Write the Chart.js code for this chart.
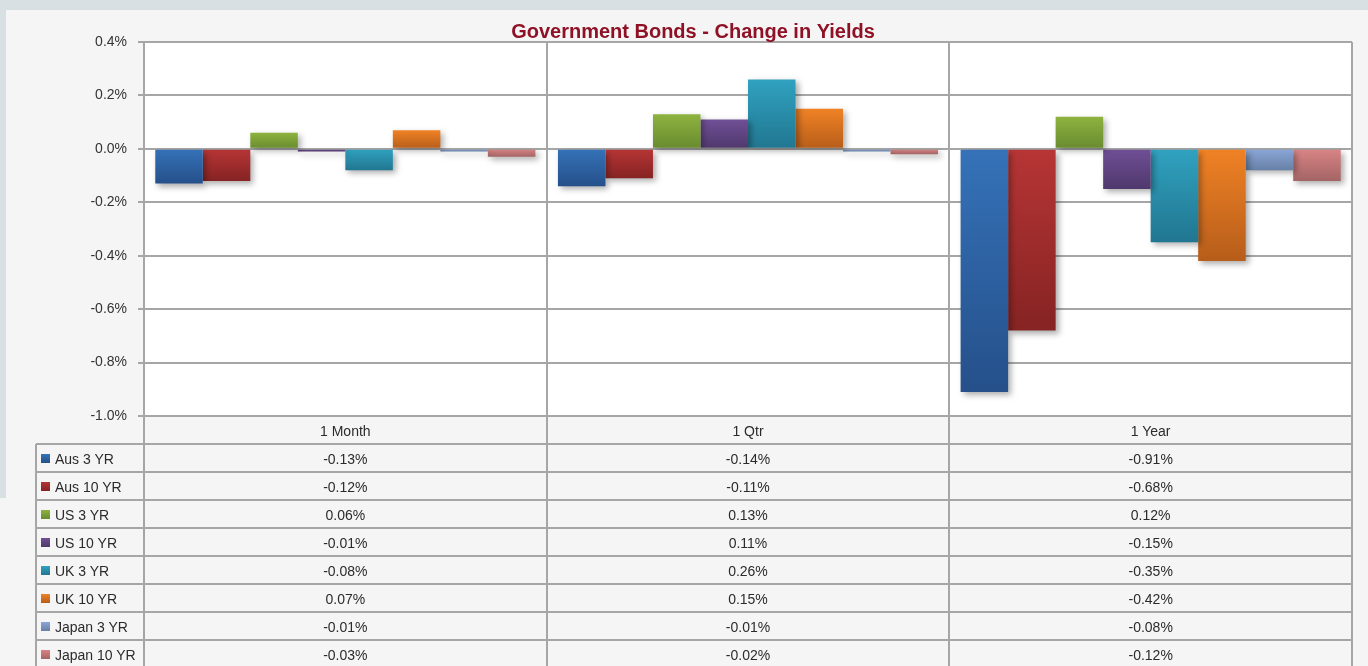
<!DOCTYPE html>
<html>
<head>
<meta charset="utf-8">
<script src="https://cdn.jsdelivr.net/npm/chart.js@4.4.1/dist/chart.umd.min.js"></script>
<style>
  html, body { margin:0; padding:0; }
  body { width:1368px; height:666px; background:#f5f5f5; position:relative; overflow:hidden;
         font-family:"Liberation Sans", Arial, sans-serif; }
  #topStrip { position:absolute; left:0; top:0; width:1368px; height:10px; background:#d9e0e3; }
  #leftStrip { position:absolute; left:0; top:10px; width:6px; height:488px; background:#d9e0e3; }
  #wrap { position:absolute; left:6px; top:10px; width:1362px; height:656px; }
  #table { position:absolute; left:0; top:0; width:1368px; height:666px; pointer-events:none; }
  .hl { position:absolute; height:2px; background:#a6a6a6; }
  .vl { position:absolute; width:2px; background:#a6a6a6; }
  .cell { position:absolute; font-size:14px; color:#2b2b2b; text-align:center; line-height:28px; height:28px; white-space:nowrap; }
  .lab { position:absolute; font-size:14px; color:#2b2b2b; line-height:28px; height:28px; white-space:nowrap; }
  .sw { position:absolute; width:9px; height:9px; }
</style>
</head>
<body>
<div id="topStrip"></div>
<div id="leftStrip"></div>
<div id="wrap"><canvas id="c" width="1362" height="656"></canvas></div>
<div id="table"></div>
<script>
// ---- data ----
const categories = ['1 Month', '1 Qtr', '1 Year'];
const seriesNames = ['Aus 3 YR', 'Aus 10 YR', 'US 3 YR', 'US 10 YR', 'UK 3 YR', 'UK 10 YR', 'Japan 3 YR', 'Japan 10 YR'];
const aus3yr   = [-0.13, -0.14, -0.91];
const aus10yr  = [-0.12, -0.11, -0.68];
const us3yr    = [0.06, 0.13, 0.12];
const us10yr   = [-0.01, 0.11, -0.15];
const uk3yr    = [-0.08, 0.26, -0.35];
const uk10yr   = [0.07, 0.15, -0.42];
const japan3yr = [-0.01, -0.01, -0.08];
const japan10yr= [-0.03, -0.02, -0.12];
const yTickValues = [0.4, 0.2, 0.0, -0.2, -0.4, -0.6, -0.8, -1.0];
const chartTitle = 'Government Bonds - Change in Yields';

const seriesValues = [aus3yr, aus10yr, us3yr, us10yr, uk3yr, uk10yr, japan3yr, japan10yr];

// ---- styles ----
const gradColors = [
  ['#3572b8', '#25508a'],
  ['#b73535', '#862323'],
  ['#8eb33f', '#688a2f'],
  ['#704f96', '#4f386c'],
  ['#30a2c0', '#217690'],
  ['#f08225', '#b65d1a'],
  ['#8ba7d8', '#6780a6'],
  ['#d98485', '#a46464']
];
const gridColor = '#a6a6a6';
const OX = 6, OY = 10; // canvas offset on page

function barFill(i) {
  return function(ctx) {
    const chart = ctx.chart;
    if (!chart.chartArea || !chart.scales.y || ctx.raw === undefined) return gradColors[i][0];
    const y = chart.scales.y;
    const a = y.getPixelForValue(0), b = y.getPixelForValue(ctx.raw);
    const top = Math.min(a, b), bot = Math.max(a, b);
    if (bot - top < 1) return gradColors[i][0];
    const g = chart.ctx.createLinearGradient(0, top, 0, bot);
    g.addColorStop(0, gradColors[i][0]);
    g.addColorStop(1, gradColors[i][1]);
    return g;
  };
}

const datasets = seriesNames.map((name, i) => ({
  label: name,
  data: seriesValues[i],
  backgroundColor: barFill(i),
  borderWidth: 0,
  barPercentage: 1.0,
  categoryPercentage: 0.944
}));

const bgPlugin = {
  id: 'bg',
  beforeDraw(chart) {
    const { ctx, chartArea } = chart;
    ctx.save();
    ctx.fillStyle = '#ffffff';
    ctx.fillRect(chartArea.left, chartArea.top, chartArea.right - chartArea.left, chartArea.bottom - chartArea.top);
    ctx.restore();
  }
};
const shadowPlugin = {
  id: 'shadow',
  beforeDatasetsDraw(chart) {
    const ctx = chart.ctx;
    ctx.save();
    ctx.shadowColor = 'rgba(0,0,0,0.32)';
    ctx.shadowBlur = 6;
    ctx.shadowOffsetX = 3;
    ctx.shadowOffsetY = 3;
  },
  afterDatasetsDraw(chart) { chart.ctx.restore(); }
};
const titlePlugin = {
  id: 'ttl',
  afterDraw(chart) {
    const ctx = chart.ctx;
    ctx.save();
    ctx.font = 'bold 20px "Liberation Sans", Arial, sans-serif';
    ctx.fillStyle = '#8f1126';
    ctx.textAlign = 'center';
    ctx.textBaseline = 'middle';
    ctx.fillText(chartTitle, 693 - OX, 32 - OY);
    ctx.restore();
  }
};

const chart = new Chart(document.getElementById('c'), {
  type: 'bar',
  data: { labels: categories, datasets },
  plugins: [bgPlugin, shadowPlugin, titlePlugin],
  options: {
    responsive: false,
    animation: false,
    layout: { padding: { left: 0, right: 16, top: 32, bottom: 250 } },
    plugins: { legend: { display: false }, title: { display: false }, tooltip: { enabled: false } },
    scales: {
      x: {
        grid: { color: gridColor, lineWidth: 2, drawTicks: false, offset: true },
        border: { display: false },
        ticks: { display: false },
        afterFit(s) { s.height = 0; }
      },
      y: {
        min: -1.0, max: 0.4,
        afterBuildTicks(s) { s.ticks = yTickValues.map(v => ({ value: v })); },
        afterFit(s) { s.width = 138; },
        grid: { color: gridColor, lineWidth: 2, tickLength: 6 },
        border: { color: gridColor, width: 2 },
        ticks: {
          padding: 11,
          color: '#333333',
          font: { family: '"Liberation Sans", Arial, sans-serif', size: 14 },
          callback: v => (Math.round(v * 10) / 10).toFixed(1) + '%'
        }
      }
    }
  }
});

// ---- data table under the chart, aligned to the x scale ----
(function buildTable() {
  const t = document.getElementById('table');
  const ca = chart.chartArea;
  const xs = chart.scales.x;
  const left = OX + ca.left, right = OX + ca.right, bottom = OY + ca.bottom;
  const catW = (ca.right - ca.left) / categories.length;
  const legL = 36, rowH = 28;
  const nRows = seriesNames.length;
  function add(cls, css, text) {
    const d = document.createElement('div');
    d.className = cls;
    Object.assign(d.style, css);
    if (text !== undefined) d.textContent = text;
    t.appendChild(d);
    return d;
  }
  // horizontal lines
  for (let r = 1; r <= nRows + 1; r++) {
    const y = bottom + r * rowH - 1;
    add('hl', { left: legL + 'px', top: y + 'px', width: (right - legL + 1) + 'px' });
  }
  // vertical lines
  add('vl', { left: (legL - 1) + 'px', top: (bottom + rowH) + 'px', height: (rowH * nRows + 10) + 'px' });
  for (let c = 0; c <= categories.length; c++) {
    const x = left + c * catW;
    add('vl', { left: (x - 1) + 'px', top: bottom + 'px', height: (rowH * (nRows + 1) + 10) + 'px' });
  }
  // header
  categories.forEach((cat, c) => {
    const cx = OX + xs.getPixelForValue(c);
    add('cell', { left: (cx - catW / 2) + 'px', width: catW + 'px', top: (bottom + 1) + 'px' }, cat);
  });
  // rows
  seriesNames.forEach((name, i) => {
    const top = bottom + (i + 1) * rowH + 1;
    add('sw', { left: '41px', top: (top + 9) + 'px',
      background: 'linear-gradient(' + gradColors[i][0] + ',' + gradColors[i][1] + ')' });
    add('lab', { left: '55px', top: top + 'px' }, name);
    seriesValues[i].forEach((v, c) => {
      const cx = OX + xs.getPixelForValue(c);
      add('cell', { left: (cx - catW / 2) + 'px', width: catW + 'px', top: top + 'px' }, v.toFixed(2) + '%');
    });
  });
})();
</script>
</body>
</html>
